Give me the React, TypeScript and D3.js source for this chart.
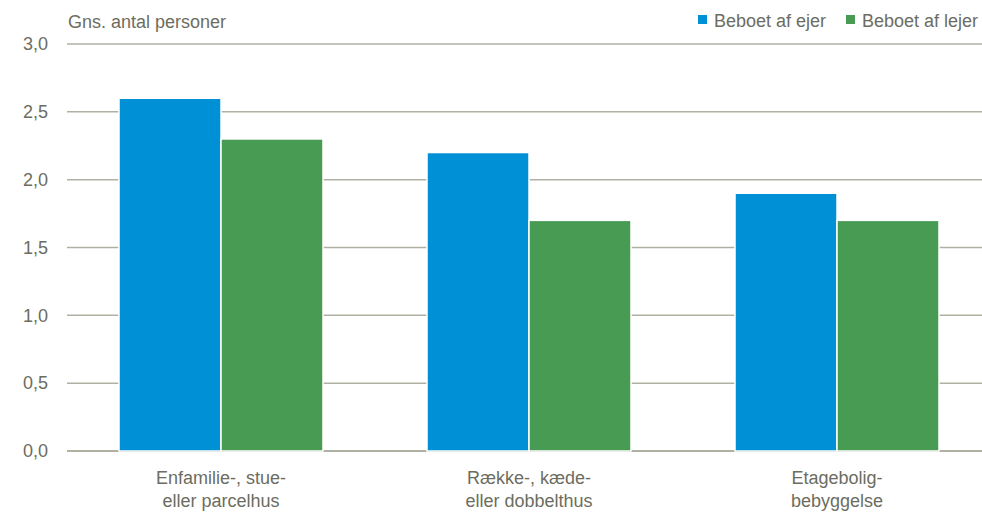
import * as React from 'react'
import * as d3 from 'd3'

const categories = [
  ['Enfamilie-, stue-', 'eller parcelhus'],
  ['Række-, kæde-', 'eller dobbelthus'],
  ['Etagebolig-', 'bebyggelse'],
];
const series = ['Beboet af ejer', 'Beboet af lejer'];
const ejerValues = [2.6, 2.2, 1.9];
const lejerValues = [2.3, 1.7, 1.7];
const yTicks = [0, 0.5, 1, 1.5, 2, 2.5, 3];

const colors = ['#0090d5', '#489b53'];
const textColor = '#6c6d5f';
const gridColor = '#b1b1a3';
const font = '"Liberation Sans", Arial, sans-serif';

const App: React.FC = () => {
  const ref = React.useRef<SVGSVGElement>(null);
  const width = 982;
  const height = 514;

  React.useEffect(() => {
    const svg = d3.select(ref.current);
    svg.selectAll('*').remove();

    const x0 = d3.scaleBand<number>()
      .domain(categories.map((_, i) => i))
      .range([67, 991])
      .paddingInner(0)
      .paddingOuter(0);
    const x1 = d3.scaleBand<number>()
      .domain([0, 1])
      .range([0, x0.bandwidth()])
      .paddingOuter(0.51)
      .paddingInner(0);
    const y = d3.scaleLinear().domain([0, 3]).range([451, 44]);

    // gridlines
    svg.append('g')
      .selectAll('line')
      .data(yTicks)
      .enter()
      .append('line')
      .attr('x1', 67)
      .attr('x2', width)
      .attr('y1', d => y(d))
      .attr('y2', d => y(d))
      .attr('stroke', gridColor)
      .attr('stroke-width', d => d === 0 ? 2 : 1.5);

    // y labels
    svg.append('g')
      .selectAll('text')
      .data(yTicks)
      .enter()
      .append('text')
      .attr('x', 48)
      .attr('y', d => y(d))
      .attr('dy', '0.35em')
      .attr('text-anchor', 'end')
      .attr('font-family', font)
      .attr('font-size', 18)
      .attr('fill', textColor)
      .text(d => d3.format('.1f')(d).replace('.', ','));

    const allSeries = [ejerValues, lejerValues];
    allSeries.forEach((vals, s) => {
      svg.append('g')
        .selectAll('rect')
        .data(vals)
        .enter()
        .append('rect')
        .attr('x', (_, i) => (x0(i) ?? 0) + (x1(s) ?? 0))
        .attr('y', d => y(d))
        .attr('width', x1.bandwidth())
        .attr('height', d => y(0) - y(d))
        .attr('fill', colors[s])
        .attr('stroke', '#fff')
        .attr('stroke-width', 1.5);
    });

    // category labels
    const cat = svg.append('g')
      .selectAll('text')
      .data(categories)
      .enter()
      .append('text')
      .attr('x', (_, i) => (x0(i) ?? 0) + x0.bandwidth() / 2)
      .attr('y', 484)
      .attr('text-anchor', 'middle')
      .attr('font-family', font)
      .attr('font-size', 18)
      .attr('fill', textColor);
    cat.each(function (d) {
      const t = d3.select(this);
      d.forEach((line, j) => {
        t.append('tspan')
          .attr('x', t.attr('x'))
          .attr('dy', j === 0 ? 0 : 23)
          .text(line);
      });
    });

    // title
    svg.append('text')
      .attr('x', 68)
      .attr('y', 28)
      .attr('font-family', font)
      .attr('font-size', 18)
      .attr('fill', textColor)
      .text('Gns. antal personer');

    // legend
    const legendX = [698, 846];
    series.forEach((name, s) => {
      svg.append('rect')
        .attr('x', legendX[s])
        .attr('y', 15)
        .attr('width', 9)
        .attr('height', 9)
        .attr('fill', colors[s]);
      svg.append('text')
        .attr('x', legendX[s] + 16)
        .attr('y', 27)
        .attr('font-family', font)
        .attr('font-size', 18)
        .attr('fill', textColor)
        .text(name);
    });
  }, []);

  return (
    <svg ref={ref} width={width} height={height}
      style={{ position: 'absolute', left: 0, top: 0, background: '#fff' }} />
  );
};

export default App;
